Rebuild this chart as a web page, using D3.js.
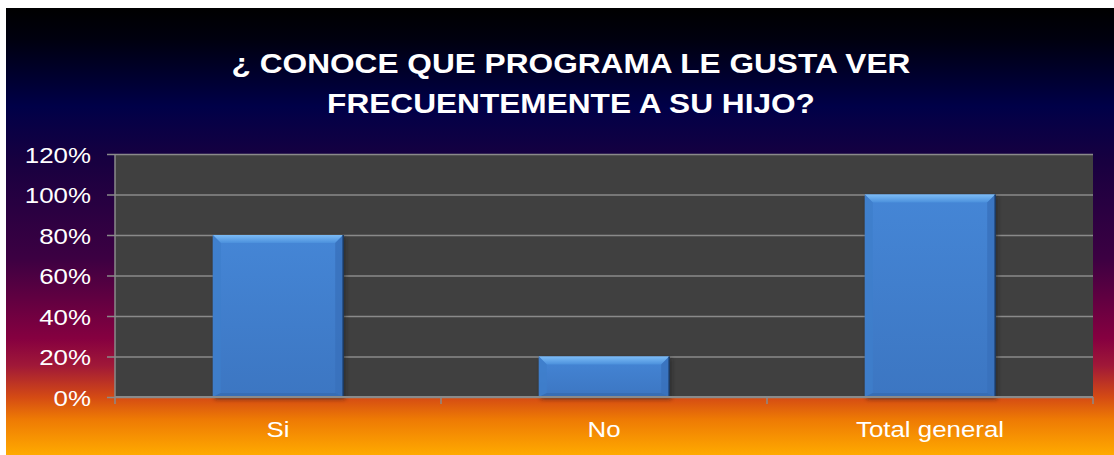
<!DOCTYPE html>
<meta charset="utf-8">
<style>
body { margin: 0; background: #fff; }
text { font-family: Arial, "Liberation Sans", sans-serif; fill: #fff; }
</style>
<body>
<svg id="chart" width="1114" height="455"></svg>
<script src="https://d3js.org/d3.v7.min.js"></script>
<script>
// data
var categories = ["Si", "No", "Total general"];
var values = [0.80, 0.20, 1.00];
var yTicks = [0, 0.2, 0.4, 0.6, 0.8, 1.0, 1.2];
var titleLines = ["\u00BF CONOCE QUE PROGRAMA LE GUSTA VER", "FRECUENTEMENTE A SU HIJO?"];

var W = 1114, H = 455;
var svg = d3.select("#chart");
var defs = svg.append("defs");

// background gradient
var bg = defs.append("linearGradient").attr("id", "bg")
    .attr("x1", 0).attr("y1", 0).attr("x2", 0).attr("y2", 1);
[[0, "#000000"], [0.07, "#00000f"], [0.22, "#000048"], [0.34, "#170040"],
 [0.56, "#3c0042"], [0.74, "#860040"], [0.80, "#a01838"], [0.87, "#d44a14"],
 [0.92, "#ee7a04"], [1, "#ffaa00"]].forEach(function(s) {
  bg.append("stop").attr("offset", s[0]).attr("stop-color", s[1]);
});
svg.append("rect").attr("x", 6).attr("y", 8).attr("width", W - 6).attr("height", H - 8)
    .attr("fill", "url(#bg)");

var barGrad = defs.append("linearGradient").attr("id", "barGrad")
    .attr("x1", 0).attr("y1", 0).attr("x2", 0).attr("y2", 1);
barGrad.append("stop").attr("offset", 0).attr("stop-color", "#4586d6");
barGrad.append("stop").attr("offset", 1).attr("stop-color", "#3c76c2");

var topGrad = defs.append("linearGradient").attr("id", "topGrad")
    .attr("x1", 0).attr("y1", 0).attr("x2", 0).attr("y2", 1);
topGrad.append("stop").attr("offset", 0).attr("stop-color", "#7cbcf6");
topGrad.append("stop").attr("offset", 1).attr("stop-color", "#4b90dc");

var shadow = defs.append("filter").attr("id", "shadow")
    .attr("x", "-10%").attr("y", "-10%").attr("width", "120%").attr("height", "130%");
shadow.append("feGaussianBlur").attr("stdDeviation", 2);

var margin = {left: 115, right: 1093, top: 154, bottom: 397};
var x = d3.scaleBand().domain(categories).range([margin.left, margin.right])
    .paddingInner(0.6).paddingOuter(0.3);
var y = d3.scaleLinear().domain([0, 1.2]).range([margin.bottom, margin.top]);

// title
var sx = 1.13;
svg.append("g").selectAll("text").data(titleLines).enter().append("text")
    .attr("transform", function(d, i) { return "translate(571," + (73 + i * 40) + ") scale(" + sx + ",1)"; })
    .attr("text-anchor", "middle")
    .style("font-size", "28px").style("font-weight", "bold")
    .text(function(d) { return d; });

// plot area
svg.append("rect").attr("x", margin.left).attr("y", margin.top)
    .attr("width", margin.right - margin.left).attr("height", margin.bottom - margin.top)
    .attr("fill", "#404040");

// y axis with gridlines
var yAxis = svg.append("g").attr("transform", "translate(" + margin.left + ",0)")
    .call(d3.axisLeft(y).tickValues(yTicks).tickFormat(d3.format(".0%"))
      .tickSize(-(margin.right - margin.left)).tickPadding(0));
yAxis.select(".domain").remove();
yAxis.selectAll(".tick line").attr("x1", -8).attr("stroke", "#8a8a8a").attr("stroke-width", 1.5);
yAxis.selectAll(".tick text").remove();
yAxis.selectAll(".tick").append("text")
    .attr("transform", "translate(-24,8) scale(1.15,1)")
    .attr("text-anchor", "end")
    .style("font-size", "22.5px")
    .text(function(d) { return d3.format(".0%")(d); });

// bars with bevel
var b = 8;
var bars = svg.append("g").selectAll("g").data(values).enter().append("g");
bars.append("rect")
    .attr("x", function(d, i) { return x(categories[i]) + 2; })
    .attr("y", function(d) { return y(d) + 2; })
    .attr("width", x.bandwidth())
    .attr("height", function(d) { return y(0) - y(d); })
    .attr("fill", "#1a1a1a").attr("opacity", 0.6).attr("filter", "url(#shadow)");
bars.append("rect")
    .attr("x", function(d, i) { return x(categories[i]); })
    .attr("y", function(d) { return y(d); })
    .attr("width", x.bandwidth())
    .attr("height", function(d) { return y(0) - y(d); })
    .attr("fill", "url(#barGrad)");
function poly(pts) { return pts.map(function(p) { return p.join(","); }).join(" "); }
bars.append("polygon").attr("fill", "url(#topGrad)")
    .attr("points", function(d, i) {
      var x0 = x(categories[i]), x1 = x0 + x.bandwidth(), y0 = y(d);
      return poly([[x0, y0], [x1, y0], [x1 - b, y0 + b], [x0 + b, y0 + b]]);
    });
bars.append("polygon").attr("fill", "#3e7ecb").attr("opacity", 0.8)
    .attr("points", function(d, i) {
      var x0 = x(categories[i]), y0 = y(d), y1 = y(0);
      return poly([[x0, y0], [x0 + b, y0 + b], [x0 + b, y1 - 4], [x0, y1]]);
    });
bars.append("polygon").attr("fill", "#3870bb").attr("opacity", 0.8)
    .attr("points", function(d, i) {
      var x1 = x(categories[i]) + x.bandwidth(), y0 = y(d), y1 = y(0);
      return poly([[x1, y0], [x1 - b, y0 + b], [x1 - b, y1 - 4], [x1, y1]]);
    });
bars.append("polygon").attr("fill", "#3469ae").attr("opacity", 0.7)
    .attr("points", function(d, i) {
      var x0 = x(categories[i]), x1 = x0 + x.bandwidth(), y1 = y(0);
      return poly([[x0, y1], [x0 + b, y1 - 4], [x1 - b, y1 - 4], [x1, y1]]);
    });
bars.append("line")
    .attr("x1", function(d, i) { return x(categories[i]) + x.bandwidth(); })
    .attr("x2", function(d, i) { return x(categories[i]) + x.bandwidth(); })
    .attr("y1", function(d) { return y(d); }).attr("y2", y(0))
    .attr("stroke", "#1c3a62").attr("stroke-width", 1.5);

// x axis
var xb = d3.scaleLinear().domain([0, categories.length]).range([margin.left, margin.right]);
var xAxis = svg.append("g").attr("transform", "translate(0," + margin.bottom + ")");
xAxis.append("line").attr("x1", margin.left).attr("x2", margin.right)
    .attr("stroke", "#8a8a8a").attr("stroke-width", 2);
xAxis.selectAll(".tk").data(d3.range(categories.length + 1)).enter().append("line")
    .attr("x1", function(d) { return xb(d); }).attr("x2", function(d) { return xb(d); })
    .attr("y1", 0).attr("y2", 7).attr("stroke", "#8a8a8a").attr("stroke-width", 1.5);
svg.append("line").attr("x1", margin.left).attr("x2", margin.left)
    .attr("y1", margin.top).attr("y2", margin.bottom)
    .attr("stroke", "#8a8a8a").attr("stroke-width", 1.5);
xAxis.selectAll(".lbl").data(categories).enter().append("text")
    .attr("transform", function(d) { return "translate(" + (x(d) + x.bandwidth() / 2) + ",40) scale(1.15,1)"; })
    .attr("text-anchor", "middle")
    .style("font-size", "22.5px")
    .text(function(d) { return d; });
</script>
</body>
